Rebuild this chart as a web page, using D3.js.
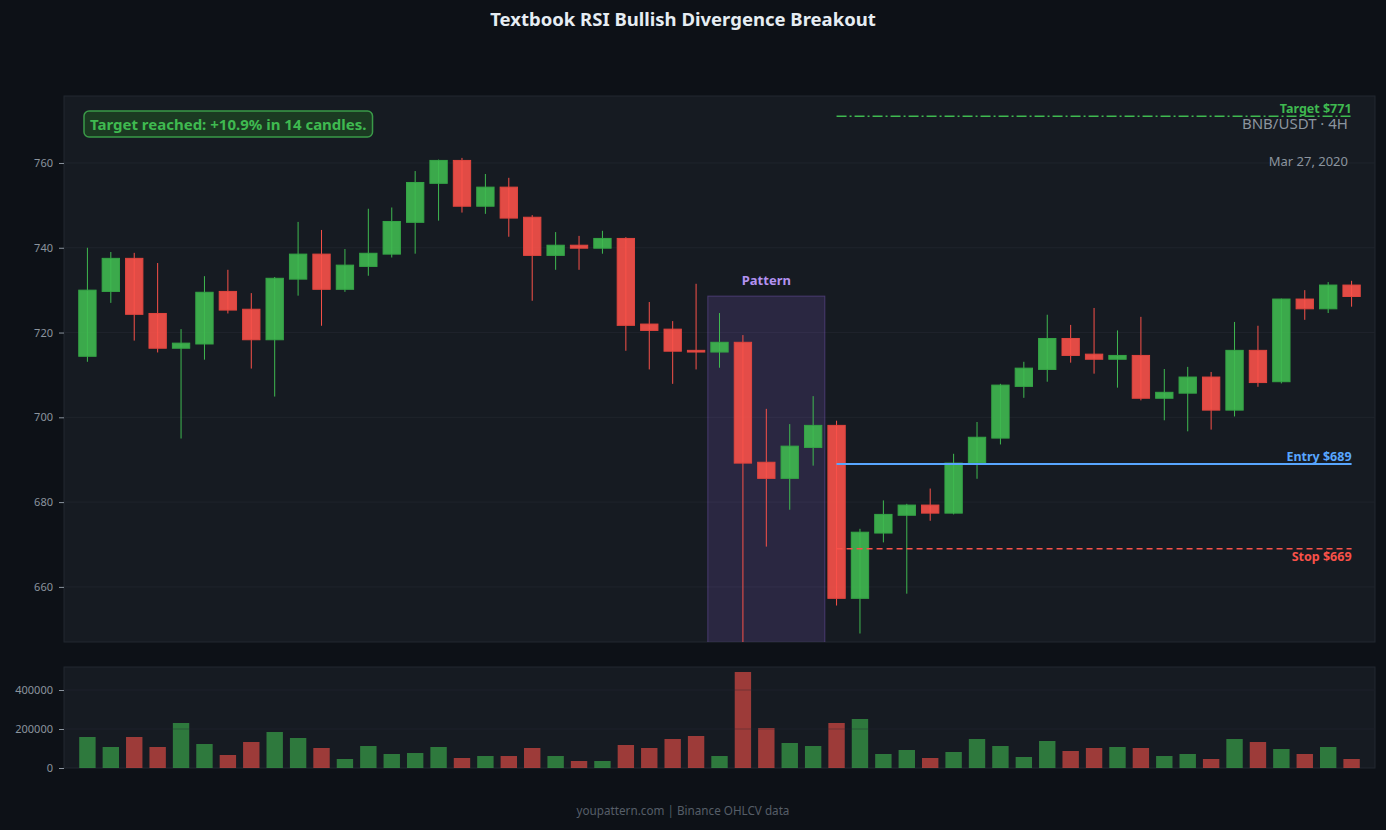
<!DOCTYPE html>
<html>
<head>
<meta charset="utf-8">
<script src="https://cdn.jsdelivr.net/npm/d3@7"></script>
<style>
  html, body { margin: 0; padding: 0; background: #0d1117; }
  svg { display: block; font-family: "Noto Sans", "Open Sans", sans-serif; }
</style>
</head>
<body>
<div id="chart"></div>
<script>
// BNB/USDT 4H candles
const opens  = [714.4, 729.7, 737.5, 724.5, 716.3, 717.3, 729.7, 725.5, 718.3, 732.6,
                738.5, 730.2, 735.6, 738.5, 746.0, 755.2, 760.6, 749.8, 754.3, 747.2,
                738.2, 740.6, 739.9, 742.2, 722.0, 720.8, 715.8, 715.4, 717.7, 689.4,
                685.6, 692.9, 698.1, 657.3, 672.7, 676.9, 679.3, 677.4, 689.2, 695.1,
                707.3, 711.3, 718.6, 714.9, 713.7, 714.6, 704.5, 705.7, 709.5, 701.7,
                715.8, 708.4, 727.9, 725.6, 731.2];
const highs  = [740.0, 739.0, 738.8, 736.4, 720.8, 733.3, 734.8, 729.3, 733.1, 746.1,
                744.2, 739.7, 749.2, 749.5, 758.1, 760.8, 761.2, 757.4, 756.5, 747.7,
                743.7, 742.8, 744.0, 742.5, 727.2, 722.7, 731.5, 724.6, 719.4, 702.0,
                698.4, 705.0, 699.2, 673.7, 680.4, 679.6, 683.2, 691.4, 698.9, 707.9,
                713.1, 724.2, 721.8, 725.8, 720.5, 723.7, 711.4, 711.9, 710.7, 722.5,
                721.6, 728.0, 730.0, 731.9, 732.2];
const lows   = [713.1, 727.0, 718.1, 715.3, 695.0, 713.6, 724.5, 711.5, 704.9, 728.7,
                721.6, 729.6, 733.4, 737.7, 738.6, 746.4, 748.3, 748.0, 742.6, 727.5,
                734.8, 734.8, 738.6, 715.7, 711.3, 707.9, 711.3, 711.7, 647.0, 669.5,
                678.2, 688.6, 655.6, 649.0, 670.5, 658.4, 675.6, 677.1, 685.5, 693.6,
                704.6, 708.4, 712.9, 710.3, 707.0, 704.0, 699.3, 696.7, 697.1, 700.2,
                707.2, 708.0, 723.0, 724.6, 726.1];
const closes = [730.0, 737.5, 724.3, 716.3, 717.5, 729.5, 725.3, 718.3, 732.8, 738.5,
                730.2, 735.9, 738.7, 746.2, 755.4, 760.6, 749.8, 754.3, 747.0, 738.2,
                740.6, 739.9, 742.2, 721.7, 720.5, 715.6, 715.4, 717.7, 689.2, 685.6,
                693.2, 698.1, 657.3, 672.9, 677.1, 679.3, 677.4, 689.2, 695.3, 707.6,
                711.6, 718.6, 714.6, 713.7, 714.6, 704.5, 705.9, 709.5, 701.7, 715.8,
                708.2, 727.9, 725.6, 731.2, 728.5];
const volumes = [159000, 107700, 159000, 107700, 230800, 123000, 66700, 133300, 184600, 153800,
                 102600, 46200, 112800, 71800, 76900, 107700, 51300, 61500, 61500, 102600,
                 61500, 35900, 35900, 118000, 102600, 148700, 164100, 61500, 492300, 205100,
                 128200, 112800, 230800, 251300, 71800, 92300, 51300, 82100, 148700, 112800,
                 56400, 138500, 87200, 102600, 107700, 102600, 61500, 71800, 46200, 148700,
                 133300, 97400, 71800, 107700, 46200];

const priceTicks = [660, 680, 700, 720, 740, 760];
const volumeTicks = [0, 200000, 400000];

// trade levels and pattern window (candle indexes)
const levelNames = ["Target", "Entry", "Stop"];
const levelPrices = [771, 689, 669];
const levelStart = 32;
const patternRange = [27, 31];
const patternTop = 728.6;

const titleText = "Textbook RSI Bullish Divergence Breakout";
const noteText = "Target reached: +10.9% in 14 candles.";
const symbolText = "BNB/USDT · 4H";
const dateText = "Mar 27, 2020";
const footerText = "youpattern.com | Binance OHLCV data";

const width = 1386, height = 830;
const left = 64, right = 1375;
const main = { top: 96, bottom: 642 };
const vol = { top: 667, bottom: 768 };
const centerX = 683;

const green = "#3fb950", red = "#f85149", blue = "#58a6ff";
const muted = "#8b949e";

const svg = d3.select("#chart").append("svg")
  .attr("width", width)
  .attr("height", height);

svg.append("rect").attr("width", width).attr("height", height).attr("fill", "#0d1117");

const x = d3.scaleLinear().domain([-1, opens.length]).range([left, right]);
const step = x(1) - x(0);
const y = d3.scaleLinear().domain([647, 775.8]).range([main.bottom, main.top]);
const yv = d3.scaleLinear().domain([0, 518000]).range([vol.bottom, vol.top]);

const idx = d3.range(opens.length);
const up = i => closes[i] >= opens[i];

// panels
[main, vol].forEach(p => {
  svg.append("rect")
    .attr("x", left).attr("y", p.top)
    .attr("width", right - left).attr("height", p.bottom - p.top)
    .attr("fill", "#161b22")
    .attr("stroke", "#222831").attr("stroke-width", 1);
});

svg.append("defs").append("clipPath").attr("id", "clipMain")
  .append("rect").attr("x", left).attr("y", main.top)
  .attr("width", right - left).attr("height", main.bottom - main.top);

// grid
svg.append("g").selectAll("line").data(priceTicks).enter().append("line")
  .attr("x1", left).attr("x2", right)
  .attr("y1", d => y(d)).attr("y2", d => y(d))
  .attr("stroke", "#1f242c");
svg.append("g").selectAll("line").data(volumeTicks.slice(1)).enter().append("line")
  .attr("x1", left).attr("x2", right)
  .attr("y1", d => yv(d)).attr("y2", d => yv(d))
  .attr("stroke", "#1f242c");

// axes
const yAxis = svg.append("g")
  .attr("transform", `translate(${left},0)`)
  .call(d3.axisLeft(y).tickValues(priceTicks).tickSize(5).tickPadding(6));
const vAxis = svg.append("g")
  .attr("transform", `translate(${left},0)`)
  .call(d3.axisLeft(yv).tickValues(volumeTicks).tickSize(5).tickPadding(6).tickFormat(d3.format("d")));
[yAxis, vAxis].forEach(a => {
  a.select(".domain").remove();
  a.selectAll("line").attr("stroke", muted);
  a.selectAll("text").attr("fill", muted).style("font-size", "11px")
    .style("font-family", "Noto Sans, sans-serif");
});

const plot = svg.append("g").attr("clip-path", "url(#clipMain)");

// pattern window
plot.append("rect")
  .attr("x", x(patternRange[0] - 0.5))
  .attr("y", y(patternTop))
  .attr("width", x(patternRange[1] + 0.5) - x(patternRange[0] - 0.5))
  .attr("height", main.bottom - y(patternTop) + 2)
  .attr("fill", "rgba(163,113,247,0.15)")
  .attr("stroke", "rgba(163,113,247,0.3)");

svg.append("text")
  .attr("x", (x(patternRange[0] - 0.5) + x(patternRange[1] + 0.5)) / 2)
  .attr("y", y(patternTop) - 11)
  .attr("text-anchor", "middle")
  .attr("fill", "#b392f0")
  .style("font-size", "13px").style("font-weight", "bold")
  .text("Pattern");

// candles
plot.append("g").selectAll("line").data(idx).enter().append("line")
  .attr("x1", i => x(i)).attr("x2", i => x(i))
  .attr("y1", i => y(highs[i])).attr("y2", i => y(lows[i]))
  .attr("stroke", i => up(i) ? green : red)
  .attr("stroke-width", 1);

const bw = step * 0.74;
plot.append("g").selectAll("rect").data(idx).enter().append("rect")
  .attr("x", i => x(i) - bw / 2)
  .attr("y", i => y(Math.max(opens[i], closes[i])))
  .attr("width", bw)
  .attr("height", i => Math.max(1, Math.abs(y(opens[i]) - y(closes[i]))))
  .attr("fill", i => up(i) ? green : red)
  .attr("fill-opacity", 0.9)
  .attr("stroke", i => up(i) ? "#35a446" : "#e0463f")
  .attr("stroke-width", 1);

// levels
const levelColors = [green, blue, red];
const levelDash = ["10,3,2,3", null, "6,4"];
levelNames.forEach((name, k) => {
  svg.append("line")
    .attr("x1", x(levelStart)).attr("x2", x(opens.length - 1))
    .attr("y1", y(levelPrices[k])).attr("y2", y(levelPrices[k]))
    .attr("stroke", levelColors[k])
    .attr("stroke-width", k === 1 ? 2 : 1.5)
    .attr("stroke-dasharray", levelDash[k]);
  svg.append("text")
    .attr("x", x(opens.length - 1))
    .attr("y", y(levelPrices[k]) + (name === "Stop" ? 12 : -3))
    .attr("text-anchor", "end")
    .attr("fill", levelColors[k])
    .style("font-size", "12.5px").style("font-weight", "bold")
    .text(`${name} $${levelPrices[k]}`);
});

// volume
const vw = step * 0.7;
const vg = svg.append("g");
vg.selectAll("rect").data(idx).enter().append("rect")
  .attr("x", i => x(i) - vw / 2)
  .attr("y", i => yv(volumes[i]))
  .attr("width", vw)
  .attr("height", i => yv(0) - yv(volumes[i]))
  .attr("fill", i => up(i) ? green : red)
  .attr("fill-opacity", 0.6);
vg.selectAll("line").data(volumeTicks.slice(1)).enter().append("line")
  .attr("x1", left).attr("x2", right)
  .attr("y1", d => yv(d)).attr("y2", d => yv(d))
  .attr("stroke", "#161b22").attr("stroke-opacity", 0.35);

// note box
const note = svg.append("g");
const noteLabel = note.append("text")
  .attr("x", 90).attr("y", 129.5)
  .attr("fill", green)
  .style("font-size", "15px").style("font-weight", "bold")
  .text(noteText);
const nb = noteLabel.node().getBBox();
note.insert("rect", "text")
  .attr("x", nb.x - 6).attr("y", 111)
  .attr("width", nb.width + 12).attr("height", 26)
  .attr("rx", 5)
  .attr("fill", "#1b3a22")
  .attr("stroke", "#3a9a48").attr("stroke-width", 1.5);

svg.append("text")
  .attr("x", 1348).attr("y", 129)
  .attr("text-anchor", "end").attr("fill", muted)
  .style("font-size", "15px")
  .text(symbolText);
svg.append("text")
  .attr("x", 1348).attr("y", 166)
  .attr("text-anchor", "end").attr("fill", muted)
  .style("font-size", "13px")
  .text(dateText);

svg.append("text")
  .attr("x", centerX).attr("y", 26)
  .attr("text-anchor", "middle").attr("fill", "#e6edf3")
  .style("font-size", "18.5px").style("font-weight", "bold")
  .text(titleText);

svg.append("text")
  .attr("x", centerX).attr("y", 815)
  .attr("text-anchor", "middle").attr("fill", "#565e68")
  .style("font-size", "11.7px")
  .text(footerText);
</script>
</body>
</html>
